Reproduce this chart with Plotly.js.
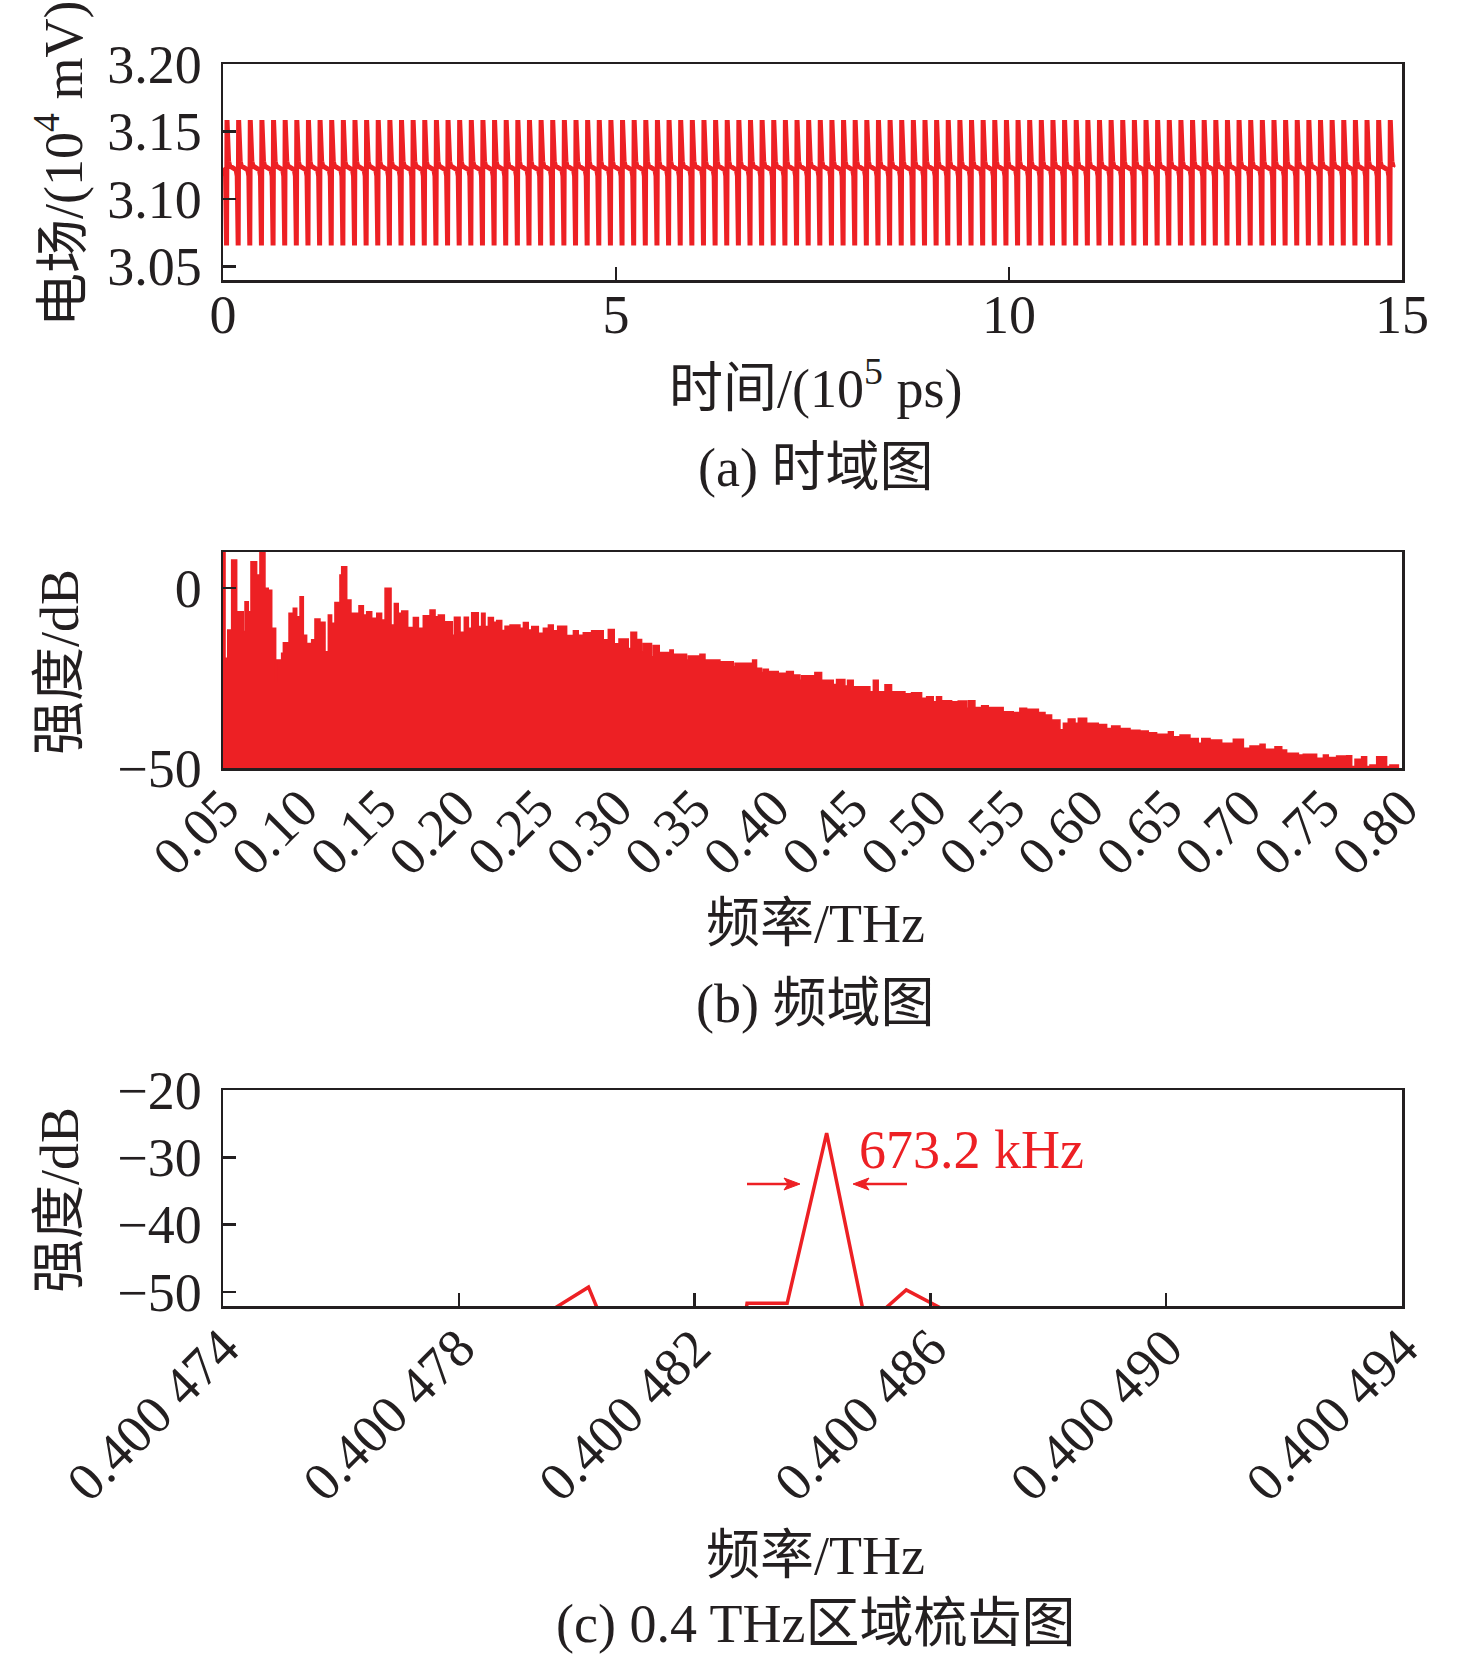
<!DOCTYPE html>
<html>
<head>
<meta charset="utf-8">
<script src="https://cdn.plot.ly/plotly-3.0.1.min.js"></script>
<style>html,body{margin:0;padding:0;background:#fff;}#chart{width:1476px;height:1664px;}</style>
</head>
<body>
<div id="chart"></div>
<script>
// ---------- (a) time domain ----------
const timeTickVals = [0, 5, 10, 15];
const timeTickText = ['0', '5', '10', '15'];
const fieldTickVals = [3.05, 3.10, 3.15, 3.20];
const fieldTickText = ['3.05', '3.10', '3.15', '3.20'];
// pulse instants (10^5 ps)
const pulseTimes = [0.045,0.193,0.341,0.489,0.637,0.785,0.933,1.081,1.229,1.377,
1.525,1.673,1.821,1.969,2.117,2.265,2.413,2.561,2.709,2.857,
3.005,3.153,3.301,3.449,3.597,3.745,3.893,4.041,4.189,4.337,
4.485,4.633,4.781,4.929,5.077,5.225,5.373,5.521,5.669,5.817,
5.965,6.113,6.261,6.409,6.557,6.705,6.853,7.001,7.149,7.297,
7.445,7.593,7.741,7.889,8.037,8.185,8.333,8.481,8.629,8.777,
8.925,9.073,9.221,9.369,9.517,9.665,9.813,9.961,10.109,10.257,
10.405,10.553,10.701,10.849,10.997,11.145,11.293,11.441,11.589,11.737,
11.885,12.033,12.181,12.329,12.477,12.625,12.773,12.921,13.069,13.217,
13.365,13.513,13.661,13.809,13.957,14.105,14.253,14.401,14.549,14.697,14.845];
// shape of one pulse (offset from pulse instant, field value 10^4 mV)
const pulseOffsets = [-0.025, -0.012, -0.004, 0.000, 0.006, 0.014, 0.026, 0.040];
const pulseLevels  = [3.1215, 3.117, 3.100, 3.0655, 3.1585, 3.140, 3.128, 3.1245];
const timeStart = [0.0, 3.123];
const timeEnd = [14.88, 3.124];

// ---------- (b) frequency domain ----------
const specFreq = [
0.0500,0.0513,0.0530,0.0555,0.0587,0.0629,0.0640,0.0661,0.0678,0.0714,
0.0735,0.0767,0.0788,0.0810,0.0835,0.0841,0.0873,0.0884,0.0920,0.0947,
0.0969,0.0990,0.1011,0.1032,0.1064,0.1085,0.1117,0.1149,0.1170,0.1191,
0.1212,0.1244,0.1255,0.1287,0.1314,0.1365,0.1393,0.1414,0.1446,0.1478,
0.1509,0.1531,0.1569,0.1590,0.1615,0.1637,0.1675,0.1711,0.1743,0.1774,
0.1817,0.1849,0.1870,0.1908,0.1959,0.1972,0.2008,0.2035,0.2061,0.2082,
0.2124,0.2145,0.2167,0.2188,0.2220,0.2241,0.2273,0.2294,0.2326,0.2389,
0.2411,0.2442,0.2464,0.2506,0.2538,0.2570,0.2601,0.2629,0.2686,0.2729,
0.2760,0.2792,0.2845,0.2919,0.2951,0.2989,0.3019,0.3078,0.3095,0.3131,
0.3163,0.3173,0.3226,0.3237,0.3275,0.3343,0.3364,0.3449,0.3460,0.3534,
0.3566,0.3661,0.3746,0.3757,0.3869,0.3894,0.3926,0.3937,0.3969,0.4032,
0.4085,0.4128,0.4170,0.4181,0.4265,0.4308,0.4382,0.4403,0.4456,0.4473,
0.4509,0.4615,0.4637,0.4668,0.4711,0.4753,0.4838,0.4880,0.4944,0.4976,
0.5018,0.5039,0.5071,0.5135,0.5177,0.5230,0.5241,0.5283,0.5326,0.5368,
0.5463,0.5527,0.5569,0.5612,0.5687,0.5729,0.5771,0.5824,0.5846,0.5877,
0.5920,0.5941,0.5994,0.6068,0.6121,0.6153,0.6206,0.6270,0.6333,0.6386,
0.6439,0.6514,0.6545,0.6588,0.6651,0.6704,0.6726,0.6779,0.6853,0.6927,
0.6991,0.7033,0.7097,0.7129,0.7192,0.7235,0.7266,0.7341,0.7372,0.7457,
0.7500,0.7531,0.7584,0.7648,0.7680,0.7701,0.7743,0.7775,0.7796,0.7839,
0.7902,0.7923,0.7977];
const specDb = [
11,-19.5,-11.7,7.8,-6.6,-12.1,-3.8,-6.6,7.3,3.6,
11,-0.1,-0.6,-11.2,-26.0,-20.0,-18.1,-15.2,-7.0,-5.6,
-8.0,-2.4,-13.1,-15.4,-14.4,-8.6,-9.5,-17.7,-7.5,-9.8,
-4.0,3.6,5.9,-3.3,-7.0,-4.9,-7.5,-6.6,-8.4,-7.0,
-8.9,-0.1,-10.3,-4.3,-7.0,-6.4,-11.0,-8.2,-11.2,-7.7,
-6.1,-8.0,-7.5,-9.4,-13.1,-8.1,-12.3,-8.1,-11.2,-6.9,
-10.7,-7.0,-10.7,-8.2,-9.5,-9.0,-11.8,-10.6,-10.3,-11.2,
-9.6,-11.7,-10.7,-12.6,-11.2,-10.3,-11.9,-10.6,-13.2,-11.9,
-13.1,-12.4,-11.9,-14.4,-11.5,-15.5,-14.2,-16.8,-12.3,-14.3,
-17.7,-15.4,-19.1,-16.0,-17.9,-17.2,-18.4,-20.0,-18.9,-18.4,
-20.0,-20.5,-21.9,-20.9,-20.0,-22.3,-23.5,-22.6,-23.2,-23.7,
-23.2,-24.2,-25.6,-24.4,-23.5,-25.6,-26.8,-25.4,-27.2,-25.6,
-27.4,-28.8,-25.6,-28.8,-26.9,-28.8,-29.4,-29.1,-30.6,-30.2,
-31.6,-30.2,-31.3,-31.6,-31.4,-33.4,-31.3,-33.2,-32.7,-33.2,
-34.4,-34.6,-33.4,-33.7,-34.6,-35.3,-36.7,-39.4,-37.6,-36.4,
-37.6,-36.2,-37.6,-37.9,-39.0,-38.3,-39.0,-39.5,-39.7,-40.2,
-40.6,-39.9,-41.3,-40.8,-41.8,-43.1,-41.8,-42.2,-43.1,-42.0,
-44.5,-43.9,-43.4,-44.8,-44.1,-45.0,-45.9,-46.4,-46.2,-47.3,
-46.4,-47.1,-46.7,-46.6,-49.6,-47.6,-46.9,-49.6,-49.2,-46.9,
-49.6,-49.2,-50];
const specTickVals = [0.05,0.10,0.15,0.20,0.25,0.30,0.35,0.40,0.45,0.50,0.55,0.60,0.65,0.70,0.75,0.80];
const specTickText = ['0.05','0.10','0.15','0.20','0.25','0.30','0.35','0.40','0.45','0.50','0.55','0.60','0.65','0.70','0.75','0.80'];
const specYTickVals = [-50, 0];
const specYTickText = ['\u221250', '0'];

// ---------- (c) comb around 0.4 THz ----------
const combFreq = [0.4004748,0.4004775,0.40047952,0.4004802,0.40048087,0.40048155,0.40048222,0.40048289,0.40048357,0.40048424,0.40048491,0.40048559,0.40048626,0.4004869,0.400494];
const combDb = [-62,-60,-53,-49.3,-63.5,-66,-90,-51.7,-51.7,-26.4,-55,-49.7,-52.8,-60,-62];
const combTickVals = [0.400474,0.400478,0.400482,0.400486,0.400490,0.400494];
const combTickText = ['0.400 474','0.400 478','0.400 482','0.400 486','0.400 490','0.400 494'];
const combYTickVals = [-50,-40,-30,-20];
const combYTickText = ['\u221250','\u221240','\u221230','\u221220'];
const linewidthLabel = '673.2 kHz';

// ---------- build ----------
const RED = 'rgb(237,32,36)';
const INK = '#231F20';
const FONT = "'Liberation Serif','Times New Roman','Noto Sans CJK SC',serif";

const tx = [timeStart[0]], ty = [timeStart[1]];
pulseTimes.forEach(t => {
  pulseOffsets.forEach((o, i) => { tx.push(t + o); ty.push(pulseLevels[i]); });
});
tx.push(timeEnd[0]); ty.push(timeEnd[1]);

const W = 1476, H = 1664;
const px = v => v / W;
const py = v => 1 - v / H;
const xDom = [px(223), px(1402)];

const traces = [
  {x: tx, y: ty, xaxis: 'x', yaxis: 'y', mode: 'lines', line: {color: RED, width: 5}, hoverinfo: 'skip'},
  {x: [specFreq[0], specFreq[specFreq.length - 1]], y: [-60, -60], xaxis: 'x2', yaxis: 'y2', mode: 'lines', line: {width: 0, color: RED}, hoverinfo: 'skip'},
  {x: specFreq, y: specDb, xaxis: 'x2', yaxis: 'y2', mode: 'lines', line: {color: RED, width: 1.5, shape: 'hv'}, fill: 'tonexty', fillcolor: RED, hoverinfo: 'skip'},
  {x: combFreq, y: combDb, xaxis: 'x3', yaxis: 'y3', mode: 'lines', line: {color: RED, width: 3.5}, hoverinfo: 'skip'}
];

function axisBase(extra) {
  return Object.assign({
    showline: true, linecolor: INK, linewidth: 2.5, mirror: true,
    ticks: 'inside', ticklen: 13, tickwidth: 2.5, tickcolor: INK,
    showgrid: false, zeroline: false, fixedrange: true,
    tickfont: {family: FONT, size: 54, color: INK},
    ticklabelstandoff: 8
  }, extra);
}

const annFont = {family: FONT, size: 54, color: INK};
function label(text, x, y, angle) {
  return {text: text, xref: 'paper', yref: 'paper', x: px(x), y: py(y), showarrow: false,
          xanchor: 'center', yanchor: 'middle', textangle: angle || 0, font: annFont};
}
// arrow drawn as a shaft plus a slim filled head, in page pixels converted to paper units
function arrowShapes(tailX, headX, y) {
  const dir = Math.sign(headX - tailX);
  const back = headX - dir * 16;
  return [
    {type: 'line', xref: 'paper', yref: 'paper', x0: px(tailX), y0: py(y), x1: px(headX - dir * 6), y1: py(y),
     line: {color: RED, width: 2.5}},
    {type: 'path', xref: 'paper', yref: 'paper',
     path: 'M ' + px(headX) + ' ' + py(y) + ' L ' + px(back) + ' ' + py(y - 6) +
           ' L ' + px(back + dir * 4) + ' ' + py(y) + ' L ' + px(back) + ' ' + py(y + 6) + ' Z',
     fillcolor: RED, line: {color: RED, width: 1}}
  ];
}

const layout = {
  width: W, height: H,
  margin: {l: 0, r: 0, t: 0, b: 0},
  paper_bgcolor: '#fff', plot_bgcolor: '#fff',
  showlegend: false,
  font: {family: FONT, size: 54, color: INK},
  xaxis: axisBase({domain: xDom, anchor: 'y', range: [0, 15], tickvals: timeTickVals, ticktext: timeTickText, ticklabelstandoff: -14}),
  yaxis: axisBase({domain: [py(280), py(64)], anchor: 'x', range: [3.04, 3.20], tickvals: fieldTickVals, ticktext: fieldTickText}),
  xaxis2: axisBase({domain: xDom, anchor: 'y2', range: [0.05, 0.80], tickvals: specTickVals, ticktext: specTickText, ticks: '', tickangle: -45, ticklabelstandoff: -16}),
  yaxis2: axisBase({domain: [py(768), py(552)], anchor: 'x2', range: [-50, 10], tickvals: specYTickVals, ticktext: specYTickText}),
  xaxis3: axisBase({domain: xDom, anchor: 'y3', range: [0.400474, 0.400494], tickvals: combTickVals, ticktext: combTickText, tickangle: -45, ticklabelstandoff: -14}),
  yaxis3: axisBase({domain: [py(1306), py(1090)], anchor: 'x3', range: [-52.1, -20], tickvals: combYTickVals, ticktext: combYTickText}),
  shapes: arrowShapes(747, 800, 1184).concat(arrowShapes(907, 853, 1184)),
  annotations: [
    label('电场/(10<sup>4</sup> mV)', 60, 164, -90),
    label('时间/(10<sup>5</sup> ps)', 815, 384),
    label('(a) 时域图', 815, 468),
    label('强度/dB', 60, 662, -90),
    label('频率/THz', 815, 924),
    label('(b) 频域图', 815, 1004),
    label('强度/dB', 60, 1200, -90),
    label('频率/THz', 815, 1556),
    label('(c) 0.4 THz区域梳齿图', 815, 1624),
    {text: linewidthLabel, xref: 'paper', yref: 'paper', x: px(971), y: py(1150), showarrow: false,
     xanchor: 'center', yanchor: 'middle', font: {family: FONT, size: 54, color: RED}}
  ]
};

Plotly.newPlot('chart', traces, layout, {staticPlot: true, displayModeBar: false});
</script>
</body>
</html>
